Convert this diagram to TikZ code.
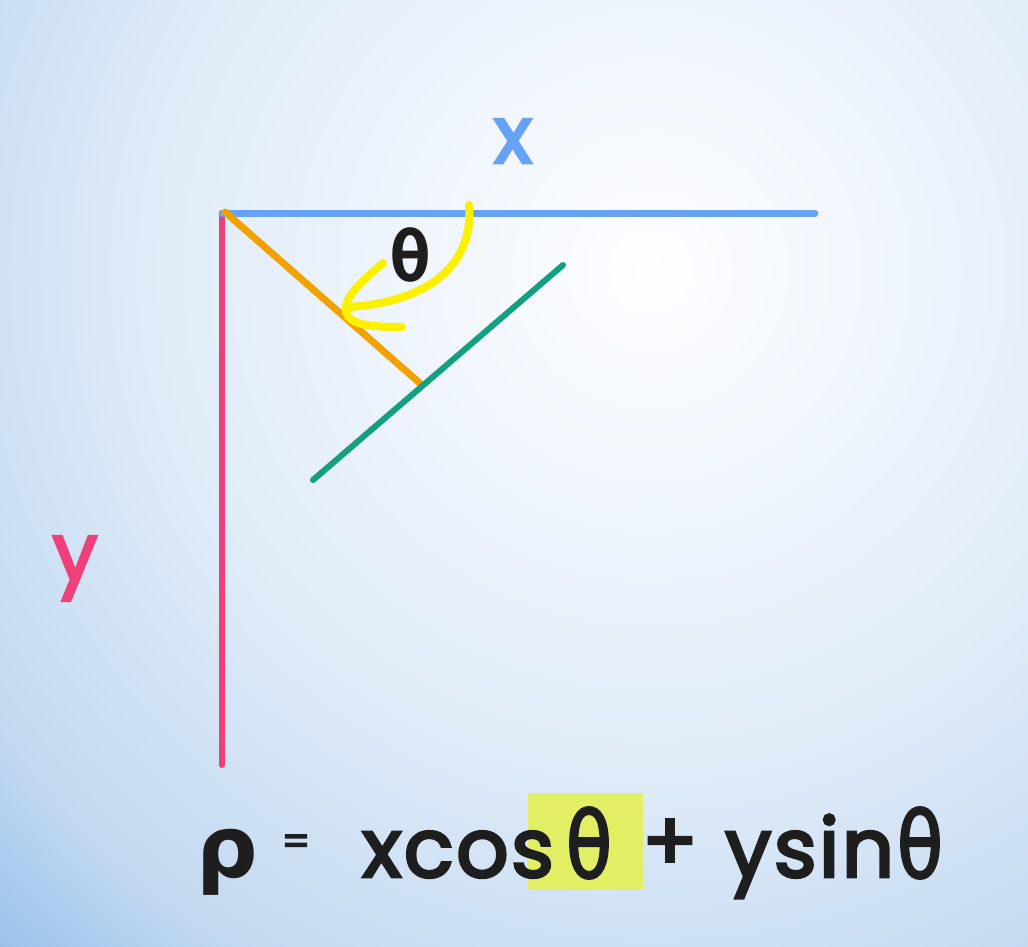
\documentclass[tikz,border=0pt]{standalone}
\usepackage{fontspec}
\setmainfont{Poppins}
\newfontfamily\popm{Poppins}[FakeBold=3.5]
\newfontfamily\popf{Poppins}[FakeBold=3.5, LetterSpace=3]
\newfontfamily\dvs{DejaVu Sans}
\newfontfamily\dvsf{DejaVu Sans}[FakeBold=2.5]
\newfontfamily\dvm{DejaVu Sans Mono}
\definecolor{bg0}{HTML}{FDFEFF}
\definecolor{bg1}{HTML}{F1F6FD}
\definecolor{bg2}{HTML}{DFEBF8}
\definecolor{bg3}{HTML}{C2D9F1}
\definecolor{bg4}{HTML}{98C1EA}
\definecolor{xblue}{HTML}{66A3F5}
\definecolor{ypink}{HTML}{EE4079}
\definecolor{rorange}{HTML}{F2A200}
\definecolor{lgreen}{HTML}{12A080}
\definecolor{ayellow}{HTML}{FAF000}
\definecolor{hl}{HTML}{E2EE64}
\definecolor{ink}{HTML}{1E1E1E}
\pgfdeclareradialshading{bgshade}{\pgfpoint{0bp}{0bp}}{color(0bp)=(bg0); color(5bp)=(bg1); color(11.5bp)=(bg2); color(18bp)=(bg3); color(21.5bp)=(bg4); color(50bp)=(bg4)}
\tikzset{
  stroke/.style={line width=7pt, line cap=round},
  lbl/.style={inner sep=0pt, anchor=base, font=\popm\fontsize{80}{90}\selectfont},
  formula/.style={inner sep=0pt, text=ink, anchor=base west, font=\popf\fontsize{82}{90}\selectfont},
  greek/.style={inner sep=0pt, text=ink, font=\dvsf\fontsize{92}{96}\selectfont}
}
\begin{document}
\begin{tikzpicture}[x=1pt,y=-1pt]
\useasboundingbox (0,0) rectangle (1028,947);
\begin{scope}
  \clip (0,0) rectangle (1028,947);
  \shade[shading=bgshade] (650,270) circle (1100);
\end{scope}
% named points
\coordinate (O) at (222,213);
\coordinate (Xend) at (815,213);
\coordinate (Yend) at (222,765);
\coordinate (Oo) at (225,212);
\coordinate (Rend) at (422,385);
\coordinate (G1) at (313,480);
\coordinate (G2) at (563,265);
\coordinate (A0) at (469,205);
\coordinate (A1) at (348,307);
\coordinate (H1) at (383,263);
\coordinate (Ht) at (346,312);
\coordinate (H2) at (402,327);
% axes and lines
\draw[stroke, ypink, line width=6pt] (O) -- (Yend);
\draw[stroke, xblue] (O) -- (Xend);
\draw[stroke, rorange] (Oo) -- (Rend);
\draw[stroke, lgreen, line width=6pt] (G1) -- (G2);
% angle arrow
\draw[stroke, ayellow, line width=8pt] (A0) .. controls (474,262) and (432,302) .. (A1);
\draw[stroke, ayellow, line width=8pt] (H1) .. controls (362,281) and (343,298) .. (Ht) .. controls (350,326) and (375,327) .. (H2);
% labels
\node[inner sep=0pt, text=ink, font=\dvm\fontsize{70}{74}\selectfont\bfseries] (thlab) at (411,255) {θ};
\node[lbl, text=xblue] (xlab) at (513,163) {x};
\node[lbl, text=ypink] (ylab) at (75,580) {y};
% formula
\fill[hl] (528,793) rectangle (643,890);
\node[formula, font=\dvs\fontsize{86}{90}\selectfont\bfseries] (rho) at (196,877) {ρ};
\node[inner sep=0pt, text=ink, font=\popm\fontsize{40}{44}\selectfont] (eq) at (296,845) {=};
\node[formula] (xcos) at (362,877) {xcos};
\node[greek, xscale=0.82] (th1) at (589,843) {θ};
\node[inner sep=0pt, text=ink, font=\popm\fontsize{82}{90}\selectfont] (plus) at (670,845) {+};
\node[formula] (ysin) at (725,877) {ysin};
\node[greek, xscale=0.82] (th2) at (920,843) {θ};
\end{tikzpicture}
\end{document}
